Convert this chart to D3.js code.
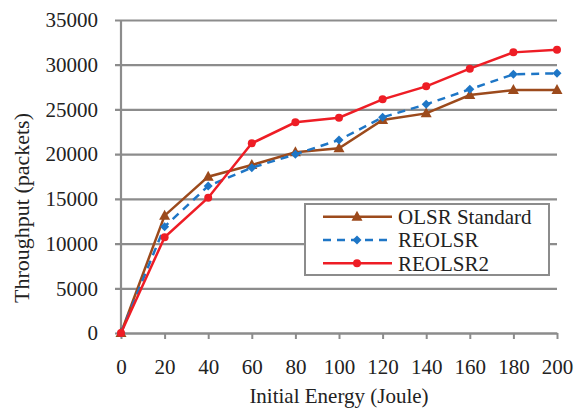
<!DOCTYPE html>
<html>
<head>
<meta charset="utf-8">
<script src="https://cdn.jsdelivr.net/npm/d3@7"></script>
<style>
  body { margin: 0; background: #fff; }
  text { font-family: "Liberation Serif", "Times New Roman", serif; fill: #222; }
</style>
</head>
<body>
<div id="chart"></div>
<script>
// data
var energy = [0, 20, 40, 60, 80, 100, 120, 140, 160, 180, 200];
var olsrStandard = [0, 13120, 17480, 18790, 20200, 20650, 23820, 24560, 26610, 27170, 27170];
var reolsr = [0, 11890, 16440, 18490, 19980, 21580, 24120, 25570, 27250, 28930, 29040];
var reolsr2 = [0, 10700, 15130, 21210, 23560, 24080, 26130, 27580, 29560, 31380, 31680];
var yTicks = [0, 5000, 10000, 15000, 20000, 25000, 30000, 35000];

var series = [
  { name: "OLSR Standard", values: olsrStandard, color: "#9C4A1C", dash: null, marker: "triangle" },
  { name: "REOLSR", values: reolsr, color: "#1E76C6", dash: "8,6", marker: "diamond" },
  { name: "REOLSR2", values: reolsr2, color: "#EE1D25", dash: null, marker: "circle" }
];

var width = 574, height = 408;
var margin = { top: 20, right: 17, bottom: 75, left: 121 };
var plotW = width - margin.left - margin.right,
  plotH = height - margin.top - margin.bottom;

var svg = d3.select("#chart").append("svg")
  .attr("width", width)
  .attr("height", height);

var g = svg.append("g")
  .attr("transform", "translate(" + margin.left + "," + margin.top + ")");

var x = d3.scaleLinear().domain([0, 200]).range([0, plotW]);
var y = d3.scaleLinear().domain([0, 35000]).range([plotH, 0]);

// gridlines + y axis
var yAxis = g.append("g")
  .call(d3.axisLeft(y).tickValues(yTicks).tickFormat(d3.format("d"))
    .tickSize(-plotW - 6).tickSizeOuter(0))
  .attr("transform", "translate(-6,0)")
  .attr("font-family", null);
yAxis.select(".domain").remove();
yAxis.selectAll(".tick line").attr("stroke", "#8c8c8c").attr("stroke-width", 2.2);
yAxis.selectAll(".tick text")
  .attr("x", -17)
  .style("font-size", "21px");

g.append("line")
  .attr("x1", 0).attr("x2", 0).attr("y1", 0).attr("y2", plotH)
  .attr("stroke", "#8c8c8c").attr("stroke-width", 2.2);

// x axis
var xAxis = g.append("g")
  .attr("transform", "translate(0," + plotH + ")")
  .call(d3.axisBottom(x).tickValues(energy).tickSize(6).tickSizeOuter(0).tickPadding(20))
  .attr("font-family", null);
xAxis.select(".domain").attr("stroke", "#8c8c8c").attr("stroke-width", 2.2);
xAxis.selectAll(".tick line").attr("stroke", "#8c8c8c").attr("stroke-width", 2);
xAxis.selectAll(".tick text")
  .style("font-size", "21px");

// axis titles
svg.append("text")
  .attr("text-anchor", "middle")
  .attr("x", margin.left + plotW / 2)
  .attr("y", 403)
  .style("font-size", "21px")
  .text("Initial Energy (Joule)");

svg.append("text")
  .attr("text-anchor", "middle")
  .attr("transform", "translate(29,208)rotate(-90)")
  .style("font-size", "22px")
  .text("Throughput (packets)");

var line = d3.line()
  .x(function(d, i) { return x(energy[i]); })
  .y(function(d) { return y(d); });

function drawMarker(sel, type, color) {
  if (type === "triangle") {
    sel.append("path").attr("d", "M0,-6L5.5,4L-5.5,4Z").attr("fill", color);
  } else if (type === "diamond") {
    sel.append("path").attr("d", "M0,-4.5L4.5,0L0,4.5L-4.5,0Z").attr("fill", color);
  } else {
    sel.append("circle").attr("r", 4).attr("fill", color);
  }
}

series.forEach(function(s) {
  g.append("path")
    .datum(s.values)
    .attr("fill", "none")
    .attr("stroke", s.color)
    .attr("stroke-width", 2.5)
    .attr("stroke-dasharray", s.dash)
    .attr("d", line);

  g.selectAll(".m-" + s.marker)
    .data(s.values)
    .enter()
    .append("g")
    .attr("class", "m-" + s.marker)
    .attr("transform", function(d, i) {
      return "translate(" + x(energy[i]) + "," + y(d) + ")";
    })
    .each(function() { drawMarker(d3.select(this), s.marker, s.color); });
});

// legend
var legend = svg.append("g").attr("transform", "translate(305,204)");
legend.append("rect")
  .attr("width", 244).attr("height", 71)
  .attr("fill", "#fff")
  .attr("stroke", "#8c8c8c").attr("stroke-width", 2);

series.forEach(function(s, i) {
  var ly = 12.7 + i * 23.3;
  legend.append("line")
    .attr("x1", 18).attr("x2", 87)
    .attr("y1", ly).attr("y2", ly)
    .attr("stroke", s.color).attr("stroke-width", 2.5)
    .attr("stroke-dasharray", s.dash);
  var mk = legend.append("g").attr("transform", "translate(52," + ly + ")");
  drawMarker(mk, s.marker, s.color);
  legend.append("text")
    .attr("x", 93).attr("y", ly)
    .attr("dy", "0.35em")
    .style("font-size", "21px")
    .text(s.name);
});
</script>
</body>
</html>
